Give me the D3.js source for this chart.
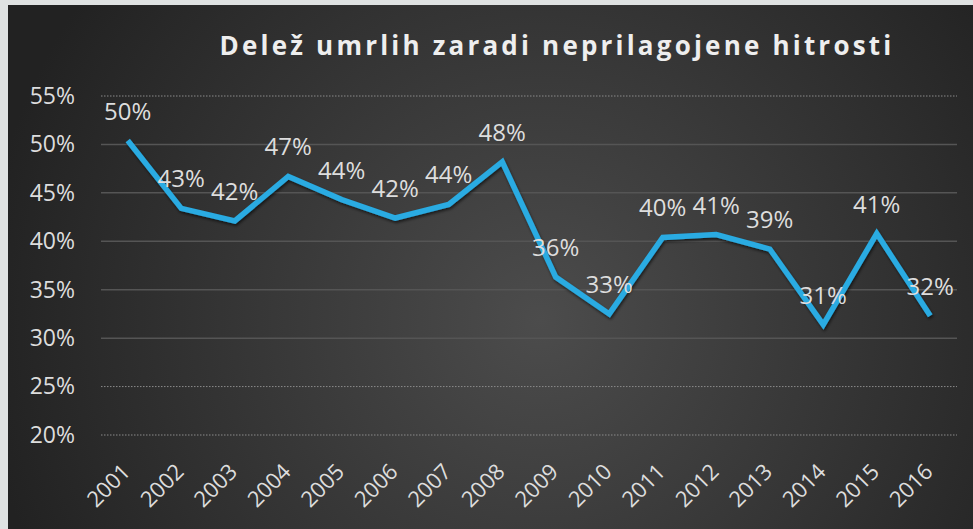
<!DOCTYPE html>
<html>
<head>
<meta charset="utf-8">
<script src="https://cdn.jsdelivr.net/npm/d3@7"></script>
<style>
  body { margin: 0; background: #dfe2e2; }
  svg { display: block; }
</style>
</head>
<body>
<svg width="973" height="529"></svg>
<script>
// data
var years = ["2001","2002","2003","2004","2005","2006","2007","2008","2009","2010","2011","2012","2013","2014","2015","2016"];
var shares = [50.4, 43.4, 42.1, 46.7, 44.3, 42.4, 43.8, 48.2, 36.3, 32.5, 40.4, 40.7, 39.2, 31.4, 40.8, 32.3];
var yTicks = [20, 25, 30, 35, 40, 45, 50, 55];
var title = "Delež umrlih zaradi neprilagojene hitrosti";

var svg = d3.select("svg");
var font = "'Open Sans', 'Noto Sans', sans-serif";

// background gradient
var defs = svg.append("defs");
var grad = defs.append("radialGradient")
  .attr("id", "bg")
  .attr("gradientUnits", "userSpaceOnUse")
  .attr("cx", 540).attr("cy", 320).attr("r", 560);
grad.append("stop").attr("offset", "0%").attr("stop-color", "#4c4c4c");
grad.append("stop").attr("offset", "100%").attr("stop-color", "#222222");

var shadow = defs.append("filter").attr("id", "shadow")
  .attr("x", "-10%").attr("y", "-10%").attr("width", "120%").attr("height", "130%");
shadow.append("feDropShadow")
  .attr("dx", 1).attr("dy", 2).attr("stdDeviation", 1.5)
  .attr("flood-color", "#000").attr("flood-opacity", 0.6);

svg.append("rect")
  .attr("x", 8).attr("y", 5)
  .attr("width", 965).attr("height", 524)
  .attr("fill", "url(#bg)");

// scales
var x = d3.scaleBand().domain(years).range([101, 957]);
var y = d3.scaleLinear().domain([20, 55]).range([435, 96]);

// gridlines
svg.append("g")
  .selectAll("line")
  .data(yTicks)
  .enter()
  .append("line")
    .attr("x1", 101).attr("x2", 957)
    .attr("y1", d => y(d)).attr("y2", d => y(d))
    .attr("stroke", d => (d <= 25 || d === 55) ? "#8a8a8a" : "#555555")
    .attr("stroke-width", d => (d <= 25 || d === 55) ? 1 : 1.5)
    .attr("stroke-dasharray", d => (d <= 25 || d === 55) ? "1.5,1.5" : null);

// y axis
var yAxis = svg.append("g")
  .attr("transform", "translate(75,0)")
  .call(d3.axisLeft(y).tickValues(yTicks).tickSize(0).tickPadding(0).tickFormat(d => d + "%"));
yAxis.select(".domain").remove();
yAxis.selectAll("text")
  .attr("fill", "#dddddd")
  .style("font-family", font)
  .style("font-size", "23px");

// x axis
var xAxis = svg.append("g")
  .attr("transform", "translate(0,452)")
  .call(d3.axisBottom(x).tickSize(0).tickPadding(0));
xAxis.select(".domain").remove();
xAxis.selectAll("text")
  .attr("fill", "#dddddd")
  .attr("text-anchor", "end")
  .attr("dy", "0")
  .attr("transform", "translate(4,21) rotate(-45)")
  .style("font-family", font)
  .style("font-size", "22px");

// line
var line = d3.line()
  .x((d, i) => x(years[i]) + x.bandwidth() / 2)
  .y(d => y(d));

svg.append("path")
  .datum(shares)
  .attr("d", line)
  .attr("fill", "none")
  .attr("stroke", "#29abe2")
  .attr("stroke-width", 5.5)
  .attr("stroke-linejoin", "miter")
  .attr("filter", "url(#shadow)");

// data labels
svg.append("g")
  .selectAll("text")
  .data(shares)
  .enter()
  .append("text")
    .attr("x", (d, i) => x(years[i]) + x.bandwidth() / 2)
    .attr("y", d => y(d) - 21)
    .attr("text-anchor", "middle")
    .attr("fill", "#dddddd")
    .style("font-family", font)
    .style("font-size", "24px")
    .text(d => Math.round(d) + "%");

// title
svg.append("text")
  .attr("x", 557)
  .attr("y", 55)
  .attr("text-anchor", "middle")
  .attr("fill", "#eeeeee")
  .style("font-family", font)
  .style("font-weight", "bold")
  .style("font-size", "26px")
  .style("letter-spacing", "3.2px")
  .text(title);
</script>
</body>
</html>
